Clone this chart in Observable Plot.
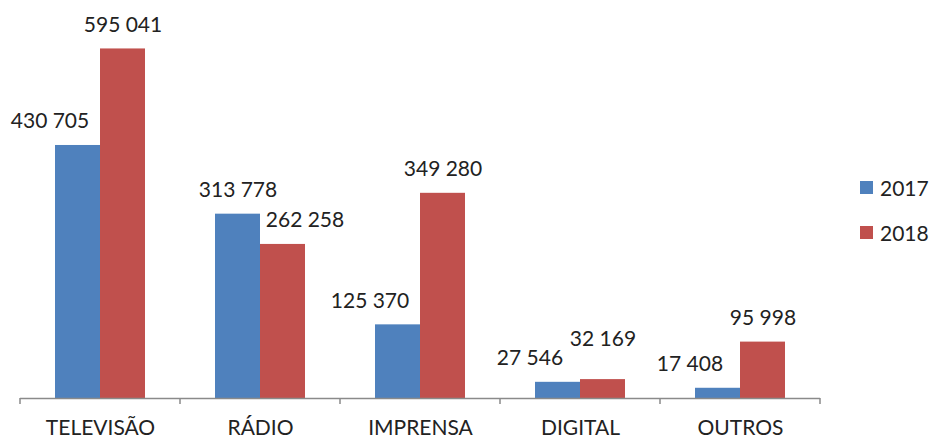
<!DOCTYPE html>
<html>
<head>
<meta charset="utf-8">
<script src="https://cdn.jsdelivr.net/npm/d3@7"></script>
<script src="https://cdn.jsdelivr.net/npm/@observablehq/plot@0.6"></script>
<style>
  body { margin: 0; background: #fff; }
  #wrap { position: relative; width: 931px; height: 438px; font-family: Lato, sans-serif; }
  #legend { position: absolute; left: 860px; top: 172px; font-size: 21px; color: #222; }
  #legend .row { display: flex; align-items: center; height: 30px; margin-bottom: 15px; }
  #legend .sw { width: 13px; height: 13px; margin-right: 7px; }
</style>
</head>
<body>
<div id="wrap"></div>
<script>
const categories = ["TELEVISÃO", "RÁDIO", "IMPRENSA", "DIGITAL", "OUTROS"];
const seriesNames = ["2017", "2018"];
const values2017 = [430705, 313778, 125370, 27546, 17408];
const values2018 = [595041, 262258, 349280, 32169, 95998];
const colors = ["#4F81BD", "#C0504D"];

const rows = [];
categories.forEach((c, i) => {
  rows.push({cat: c, year: "2017", value: values2017[i], other: values2018[i]});
  rows.push({cat: c, year: "2018", value: values2018[i], other: values2017[i]});
});

const fmt = v => d3.format(",")(v).replace(/,/g, " ");
const labelOpts = {fx: "cat", x: "year", y: "value", text: d => fmt(d.value), dy: -24, fill: "#222", fontSize: 21};
const taller = d => d.value >= d.other;
const close = d => Math.abs(d.value - d.other) < 30000;

const plot = Plot.plot({
  width: 931,
  height: 438,
  marginLeft: 20,
  marginRight: 111,
  marginTop: 0,
  marginBottom: 40,
  style: {fontFamily: "Lato", fontSize: "21px", color: "#222", background: "#fff"},
  fx: {domain: categories, padding: 0, axis: "bottom", label: null, tickSize: 0, tickPadding: 22},
  x: {domain: seriesNames, axis: null, paddingInner: 0, paddingOuter: 0.76},
  y: {domain: [0, 677500], axis: null},
  color: {domain: seriesNames, range: colors},
  marks: [
    Plot.barY(rows, {fx: "cat", x: "year", y: "value", fill: "year"}),
    Plot.ruleY([0], {stroke: "#8a8a8a", strokeWidth: 1.5}),
    // labels of the taller bar of each pair sit centred
    Plot.text(rows.filter(d => taller(d) && !close(d)), labelOpts),
    // when both bars are nearly equal, the taller label is lifted to clear its neighbour
    Plot.text(rows.filter(d => taller(d) && close(d)), {...labelOpts, dy: -40}),
    // labels of the shorter bar are pushed outward, as in the reference
    Plot.text(rows.filter(d => !taller(d) && d.year === "2017"), {...labelOpts, dx: -28}),
    Plot.text(rows.filter(d => !taller(d) && d.year === "2018"), {...labelOpts, dx: 22})
  ]
});

document.getElementById("wrap").appendChild(plot);

const svg = d3.select(plot);

// boundary ticks along the category axis
const fx = plot.scale("fx");
const y0 = plot.scale("y").apply(0);
const edges = categories.map(c => fx.apply(c));
edges.push(fx.apply(categories[categories.length - 1]) + fx.bandwidth);
svg.append("g").selectAll("line").data(edges).join("line")
  .attr("x1", d => d).attr("x2", d => d)
  .attr("y1", y0).attr("y2", y0 + 6)
  .attr("stroke", "#8a8a8a").attr("stroke-width", 1.5);

// legend
const legend = d3.select("#wrap").append("div").attr("id", "legend");
seriesNames.forEach((s, i) => {
  const r = legend.append("div").attr("class", "row");
  r.append("div").attr("class", "sw").style("background", colors[i]);
  r.append("span").text(s);
});
</script>
</body>
</html>
